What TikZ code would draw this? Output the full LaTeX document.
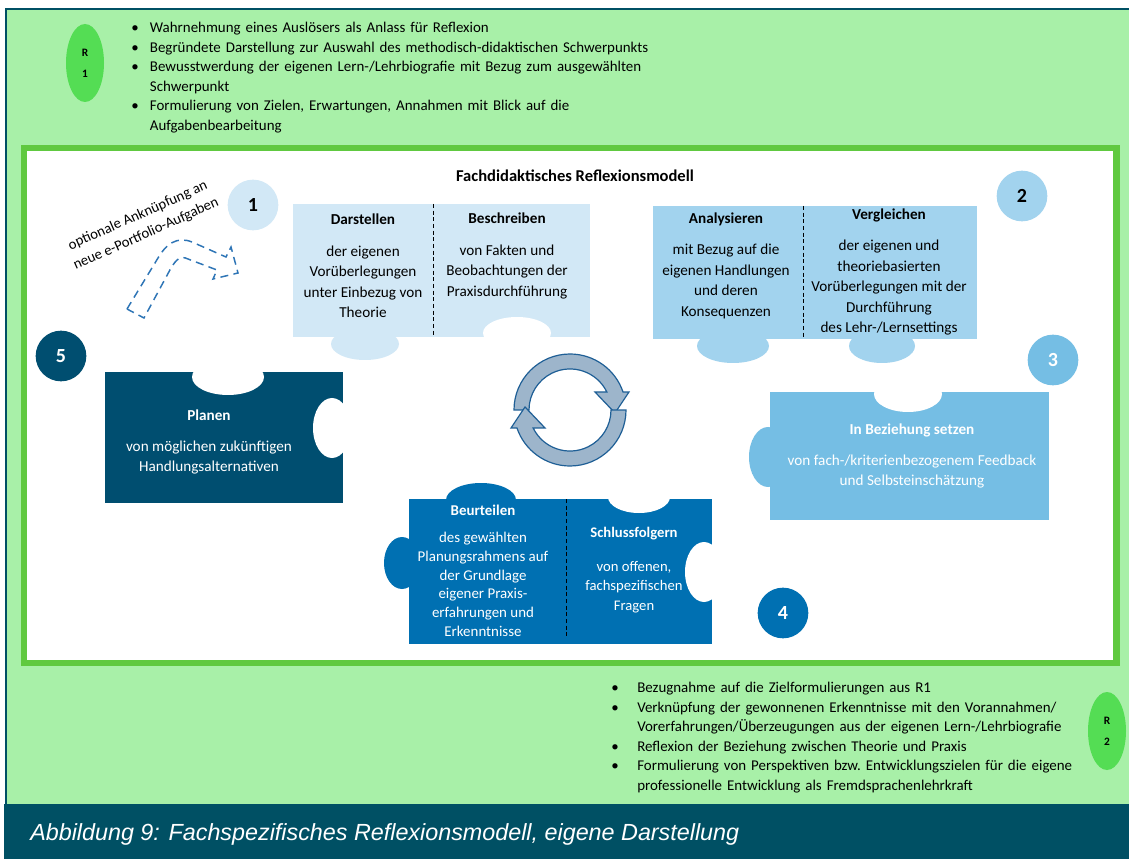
\documentclass[tikz,border=0pt]{standalone}
\usepackage{fontspec}
\setmainfont{Carlito}
\newfontfamily\capfont{Liberation Sans}
\usetikzlibrary{shapes.geometric}

\definecolor{lightgreen}{RGB}{168,240,168}
\definecolor{framegreen}{RGB}{96,201,64}
\definecolor{rgreen}{RGB}{84,221,84}
\definecolor{darkteal}{RGB}{0,80,100}
\definecolor{paleblue}{RGB}{210,232,246}
\definecolor{skyblue}{RGB}{162,211,238}
\definecolor{midblue}{RGB}{117,190,228}
\definecolor{deepblue}{RGB}{0,112,178}
\definecolor{navyblue}{RGB}{0,78,112}
\definecolor{cyclefill}{RGB}{157,181,203}
\definecolor{cycleline}{RGB}{31,95,150}
\definecolor{dashblue}{RGB}{46,117,182}

\newcommand{\bitem}[2]{\par\noindent\hangindent=#1\hbox to #1{\textbullet\hfil}\ignorespaces#2}
\newcommand{\nl}{\hfil\break}

\begin{document}
\begin{tikzpicture}[x=0.75pt,y=-0.75pt]
\tikzstyle{every node}+=[inner sep=0pt, font=\fontsize{11.4}{15.4}\selectfont]
\tikzstyle{bullets}=[anchor=north west, text width=560pt, font=\fontsize{11.2}{14.6}\selectfont]
\tikzstyle{ptext}=[align=center]
\tikzstyle{wtext}=[align=center, text=white]
\tikzstyle{numcirc}=[circle, minimum size=38pt, font=\fontsize{15}{18}\selectfont\bfseries]
\tikzstyle{rellipse}=[ellipse, fill=rgreen, minimum width=28.5pt, minimum height=58.5pt, align=center, font=\fontsize{8.5}{16}\selectfont\bfseries]
\tikzstyle{divider}=[densely dashed, line width=0.6pt, black]
\tikzstyle{cyclearrow}=[fill=cyclefill, draw=cycleline, line width=0.9pt, line join=miter]
\useasboundingbox (0,0) rectangle (1129,859);

% background
\fill[white] (0,0) rectangle (1129,859);
\fill[lightgreen] (6,9) rectangle (1129,804);
\draw[darkteal, line width=2pt] (1129,9) -- (6,9) -- (6,804);
\fill[darkteal] (4,804) rectangle (1129,859);
\draw[framegreen, fill=white, line width=5pt] (24,148) rectangle (1116.5,663);

% R1
\node[rellipse] (r1) at (85,63) {R\\1};
\node[bullets] (r1list) at (131,13) {%
\bitem{14pt}{Wahrnehmung eines Auslösers als Anlass für Reflexion}
\bitem{14pt}{Begründete Darstellung zur Auswahl des methodisch-didaktischen Schwerpunkts}
\bitem{14pt}{Bewusstwerdung der eigenen Lern-/Lehrbiografie mit Bezug zum ausgewählten\nl Schwerpunkt}
\bitem{14pt}{Formulierung von Zielen, Erwartungen, Annahmen mit Blick auf die\nl Aufgabenbearbeitung}\par};

% title
\node[font=\fontsize{12.4}{14}\selectfont\bfseries] (title) at (575,176) {Fachdidaktisches Reflexionsmodell};

% piece 1: Darstellen / Beschreiben
\fill[paleblue] (293,204) rectangle (590,337);
\fill[paleblue] (365,344) ellipse (34 and 16);
\fill[white] (517,333) ellipse (34 and 16);
\draw[divider] (433,204) -- (433,337);
\node[ptext] (darstellen) at (363,266) {\textbf{Darstellen}\\[8pt]der eigenen\\Vorüberlegungen\\unter Einbezug von\\Theorie};
\node[ptext] (beschreiben) at (507,256) {\textbf{Beschreiben}\\[8pt]von Fakten und\\Beobachtungen der\\Praxisdurchführung};

% piece 2: Analysieren / Vergleichen
\fill[skyblue] (653,206) rectangle (977,339);
\fill[skyblue] (733,346) ellipse (36 and 17);
\fill[skyblue] (882,346) ellipse (33 and 17);
\draw[divider] (803,206) -- (803,339);
\node[ptext] (analysieren) at (726,266) {\textbf{Analysieren}\\[8pt]mit Bezug auf die\\eigenen Handlungen\\und deren\\Konsequenzen};
\node[ptext] (vergleichen) at (889,272) {\textbf{Vergleichen}\\[8pt]der eigenen und\\theoriebasierten\\Vorüberlegungen mit der\\Durchführung\\des Lehr-/Lernsettings};

% piece 3: In Beziehung setzen
\fill[midblue] (770,392) rectangle (1049,520);
\fill[midblue] (768,457) ellipse (19 and 30);
\fill[white] (908,394) ellipse (34 and 18);
\node[wtext] (beziehung) at (912,456) {\textbf{In Beziehung setzen}\\[8pt]von fach-/kriterienbezogenem Feedback\\und Selbsteinschätzung};

% piece 4: Beurteilen / Schlussfolgern
\fill[deepblue] (409,499) rectangle (712,644);
\fill[deepblue] (481,500) ellipse (35 and 17);
\fill[deepblue] (402,563) ellipse (18 and 26);
\fill[white] (639,497) ellipse (31 and 16);
\fill[white] (704,572) ellipse (19 and 30);
\draw[divider] (566,499) -- (566,637);
\node[wtext, font=\fontsize{11.2}{14.1}\selectfont] (beurteilen) at (483,571) {\textbf{Beurteilen}\\[6pt]des gewählten\\Planungsrahmens auf\\der Grundlage\\eigener Praxis-\\erfahrungen und\\Erkenntnisse};
\node[wtext, font=\fontsize{11}{14.6}\selectfont] (schlussfolgern) at (634,570) {\textbf{Schlussfolgern}\\[11pt]von offenen,\\fachspezifischen\\Fragen};

% piece 5: Planen
\fill[navyblue] (105,372) rectangle (343,503);
\fill[white] (228,377) ellipse (36 and 18);
\fill[white] (332,428) ellipse (19 and 30);
\node[wtext] (planen) at (209,442) {\textbf{Planen}\\[8pt]von möglichen zukünftigen\\Handlungsalternativen};

% numbers
\node[numcirc, fill=paleblue] (num1) at (253,205) {1};
\node[numcirc, fill=skyblue] (num2) at (1022,196) {2};
\node[numcirc, fill=midblue, text=white] (num3) at (1053,360) {3};
\node[numcirc, fill=deepblue, text=white] (num4) at (783,613) {4};
\node[numcirc, fill=navyblue, text=white] (num5) at (61,356) {5};

% cycle
\begin{scope}[shift={(570,410)}, yscale=-1]
\draw[cyclearrow] (-56,0) arc[start angle=180, end angle=18.7, radius=56] -- (59,18) -- (45,-3) -- (25,18) -- (36.85,18) arc[start angle=26, end angle=180, radius=41] -- cycle;
\draw[cyclearrow, rotate=180] (-56,0) arc[start angle=180, end angle=18.7, radius=56] -- (59,18) -- (45,-3) -- (25,18) -- (36.85,18) arc[start angle=26, end angle=180, radius=41] -- cycle;
\end{scope}

% optional link
\node[rotate=24, align=center, font=\fontsize{11}{15}\selectfont] (optional) at (142,225) {optionale Anknüpfung an\\neue e-Portfolio-Aufgaben};
\draw[dashblue, line width=1.1pt, dash pattern=on 6pt off 4pt, line join=miter] (127,309) -- (158,258) .. controls (166,244) and (177,236) .. (192,242) -- (226,257) -- (231,247) -- (238,273) -- (213,279) -- (217,270) -- (188,259) .. controls (180,255) and (176,260) .. (171,268) -- (144,318) -- cycle;

% R2
\node[rellipse] (r2) at (1107,731) {R\\2};
\node[bullets] (r2list) at (611,673) {%
\bitem{19.5pt}{Bezugnahme auf die Zielformulierungen aus R1}
\bitem{19.5pt}{Verknüpfung der gewonnenen Erkenntnisse mit den Vorannahmen/\nl Vorerfahrungen/Überzeugungen aus der eigenen Lern-/Lehrbiografie}
\bitem{19.5pt}{Reflexion der Beziehung zwischen Theorie und Praxis}
\bitem{19.5pt}{Formulierung von Perspektiven bzw.\ Entwicklungszielen für die eigene\nl professionelle Entwicklung als Fremdsprachenlehrkraft}\par};

% caption
\node[anchor=west, text=white, font=\capfont\itshape\fontsize{17.5}{20}\selectfont] (caption) at (30,834) {Abbildung 9: Fachspezifisches Reflexionsmodell, eigene Darstellung};
\end{tikzpicture}
\end{document}
